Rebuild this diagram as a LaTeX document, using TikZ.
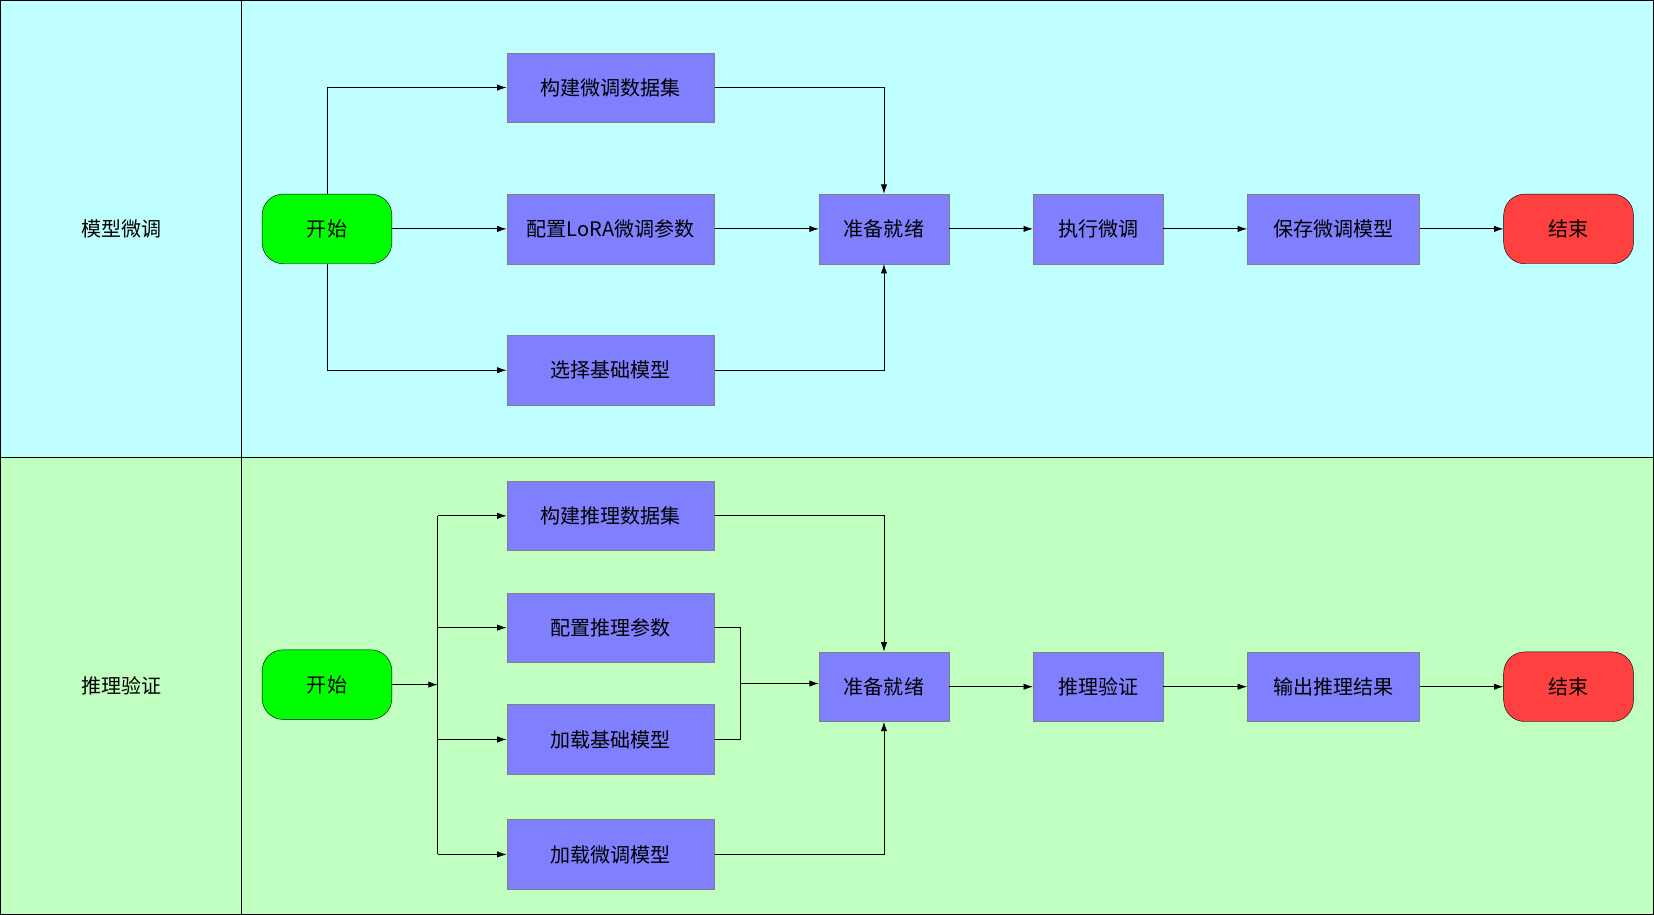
\documentclass[tikz,border=0pt]{standalone}
\usepackage{fontspec}
\setmainfont{Noto Sans CJK SC}
\usetikzlibrary{arrows.meta}
\definecolor{laneA}{RGB}{192,255,255}
\definecolor{laneB}{RGB}{192,255,192}
\definecolor{boxc}{RGB}{128,128,255}
\definecolor{endc}{RGB}{255,64,64}
\begin{document}
\begin{tikzpicture}[x=1pt,y=-1pt,
  box/.style={draw=gray,fill=boxc,minimum width=197pt,minimum height=66pt,font=\fontsize{19}{22}\selectfont,inner sep=0pt},
  sbox/.style={box,minimum width=123pt},
  term/.style={draw=black,rounded corners=20pt,minimum width=123pt,minimum height=66pt,font=\fontsize{19}{22}\selectfont},
  arr/.style={-{Latex[length=9pt,width=6pt]},line width=0.8pt},
  ln/.style={line width=0.8pt}]
\useasboundingbox (0,0) rectangle (1568,867);
\fill[laneA] (0,0) rectangle (1568,434);
\fill[laneB] (0,434) rectangle (1568,867);
\draw[line width=1pt] (0.5,0.5) rectangle (1567.5,866.5);
\draw[line width=1pt] (0,434) -- (1568,434) (229,0) -- (229,867);
\node[font=\fontsize{19}{22}\selectfont] (l1) at (115,217) {模型微调};
\node[font=\fontsize{19}{22}\selectfont] (l2) at (115,650) {推理验证};
% top lane
\node[term,fill=green] (s1) at (310,217) {开始};
\node[box] (a1) at (579,83) {构建微调数据集};
\node[box] (a2) at (579,217) {配置LoRA微调参数};
\node[box] (a3) at (579,351) {选择基础模型};
\node[sbox] (r1) at (838,217) {准备就绪};
\node[sbox] (e1) at (1041,217) {执行微调};
\node[box,minimum width=163pt] (v1) at (1264,217) {保存微调模型};
\node[term,fill=endc] (t1) at (1487,217) {结束};
\draw[arr] (s1.north) |- (a1.west);
\draw[arr] (s1) -- (a2);
\draw[arr] (s1.south) |- (a3.west);
\draw[arr] (a1.east) -| (r1.north);
\draw[arr] (a3.east) -| (r1.south);
\draw[arr] (a2) -- (r1);
\draw[arr] (r1) -- (e1);
\draw[arr] (e1) -- (v1);
\draw[arr] (v1) -- (t1);
% bottom lane
\node[term,fill=green] (s2) at (310,649) {开始};
\node[box] (b1) at (579,489) {构建推理数据集};
\node[box] (b2) at (579,595) {配置推理参数};
\node[box] (b3) at (579,701) {加载基础模型};
\node[box] (b4) at (579,810) {加载微调模型};
\node[sbox] (r2) at (838,651) {准备就绪};
\node[sbox] (e2) at (1041,651) {推理验证};
\node[box,minimum width=163pt] (v2) at (1264,651) {输出推理结果};
\node[term,fill=endc] (t2) at (1487,651) {结束};
\coordinate (j) at (415,649);
\coordinate (m) at (702,648);
\draw[arr] (s2.east) -- (j);
\draw[ln] (415,489) -- (415,810);
\draw[arr] (415,489) -- (b1.west);
\draw[arr] (415,595) -- (b2.west);
\draw[arr] (415,701) -- (b3.west);
\draw[arr] (415,810) -- (b4.west);
\draw[arr] (b1.east) -| (r2.north);
\draw[ln] (b2.east) -| (m);
\draw[ln] (b3.east) -| (m);
\draw[arr] (m) -- (r2.west |- m);
\draw[arr] (b4.east) -| (r2.south);
\draw[arr] (r2) -- (e2);
\draw[arr] (e2) -- (v2);
\draw[arr] (v2) -- (t2);
\end{tikzpicture}
\end{document}
